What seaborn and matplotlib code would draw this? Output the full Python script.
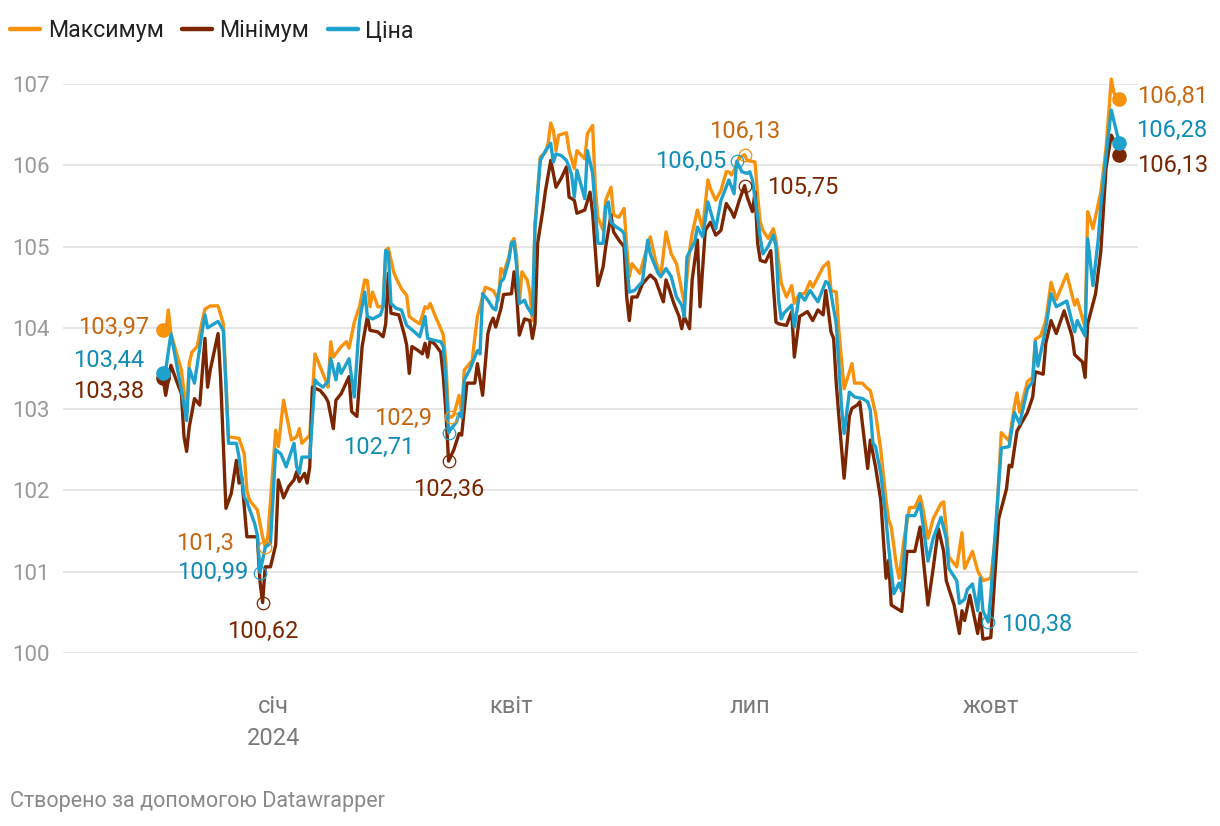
import numpy as np
import pandas as pd
import seaborn as sns
import matplotlib.pyplot as plt
from matplotlib.lines import Line2D

# days counted from 2024-01-01 (negative values = Nov/Dec 2023)
max_days = [
    -42, -41, -40, -39, -35, -33, -32, -31, -29, -27,
    -26, -24, -21, -19, -17, -13, -11, -10, -9, -6,
    -4, -3, -2, 1, 2, 4, 7, 9, 10, 11,
    14, 16, 18, 20, 21, 22, 23, 26, 28, 29,
    31, 33, 35, 36, 37, 38, 40, 42, 43, 44,
    46, 47, 49, 51, 52, 54, 56, 58, 59, 60,
    62, 64, 65, 66, 67, 68, 69, 71, 72, 73,
    76, 78, 81, 84, 86, 87, 88, 90, 91, 92,
    93, 94, 95, 97, 98, 99, 100, 102, 104, 105,
    106, 107, 108, 109, 112, 113, 115, 116, 119, 120,
    122, 123, 124, 126, 127, 129, 130, 132, 134, 135,
    136, 137, 140, 144, 146, 148, 150, 152, 154, 156,
    157, 159, 160, 162, 164, 166, 167, 169, 171, 173,
    174, 175, 176, 178, 179, 180, 181, 184, 185, 186,
    187, 189, 191, 192, 194, 196, 198, 199, 201, 203,
    205, 206, 210, 212, 213, 215, 216, 218, 221, 222,
    225, 227, 228, 230, 232, 234, 235, 236, 238, 239,
    241, 243, 245, 247, 248, 250, 252, 255, 256, 258,
    261, 263, 264, 267, 269, 271, 274, 276, 278, 281,
    283, 284, 285, 288, 290, 291, 293, 295, 297, 299,
    303, 306, 307, 310, 311, 313, 316, 318, 320, 321,
    323,
]
max_vals = [
    103.97, 103.93, 104.22, 103.93, 103.48, 102.95, 103.56, 103.70, 103.77, 104.09,
    104.23, 104.27, 104.27, 104.05, 102.66, 102.64, 102.45, 102.00, 101.88, 101.76,
    101.43, 101.30, 101.43, 102.74, 102.54, 103.11, 102.62, 102.66, 102.76, 102.58,
    102.68, 103.68, 103.52, 103.36, 103.27, 103.83, 103.64, 103.77, 103.83, 103.75,
    104.07, 104.26, 104.59, 104.58, 104.26, 104.44, 104.26, 104.26, 104.95, 104.98,
    104.69, 104.61, 104.48, 104.40, 104.14, 104.09, 104.05, 104.26, 104.24, 104.30,
    104.14, 103.99, 103.91, 103.56, 102.91, 102.90, 102.93, 103.17, 102.95, 103.48,
    103.60, 104.14, 104.50, 104.46, 104.34, 104.73, 104.67, 104.87, 105.05, 105.10,
    104.87, 104.30, 104.69, 104.59, 104.44, 104.09, 105.28, 106.10, 106.16, 106.27,
    106.52, 106.43, 106.18, 106.37, 106.40, 106.18, 105.96, 106.18, 106.08, 106.39,
    106.49, 105.73, 105.36, 105.20, 105.57, 105.73, 105.39, 105.36, 105.47, 105.00,
    104.63, 104.79, 104.67, 105.12, 104.83, 104.63, 105.18, 104.91, 104.79, 104.46,
    104.30, 104.95, 105.16, 105.45, 105.22, 105.82, 105.71, 105.57, 105.69, 105.92,
    105.92, 105.88, 105.94, 106.10, 106.11, 106.13, 106.06, 106.04, 105.61, 105.30,
    105.20, 105.10, 105.22, 105.08, 104.55, 104.38, 104.52, 104.30, 104.42, 104.42,
    104.57, 104.50, 104.75, 104.81, 104.46, 104.44, 103.97, 103.25, 103.56, 103.32,
    103.32, 103.25, 103.23, 102.95, 102.50, 101.88, 101.64, 101.55, 101.07, 100.92,
    101.43, 101.79, 101.79, 101.93, 101.79, 101.41, 101.65, 101.84, 101.86, 101.18,
    101.06, 101.48, 101.04, 101.25, 101.01, 100.89, 100.92, 101.51, 102.71, 102.61,
    103.03, 103.20, 102.96, 103.34, 103.39, 103.86, 103.90, 104.09, 104.56, 104.35,
    104.66, 104.28, 104.35, 104.00, 105.43, 105.22, 105.67, 106.21, 107.06, 106.89,
    106.81,
]

min_days = [
    -42, -41, -39, -37, -35, -34, -33, -32, -30, -28,
    -26, -25, -24, -21, -20, -18, -16, -14, -13, -12,
    -10, -6, -5, -4, -3, -1, 1, 2, 4, 6,
    8, 9, 10, 12, 13, 14, 15, 18, 20, 21,
    23, 24, 26, 29, 30, 32, 34, 36, 37, 40,
    42, 43, 44, 45, 48, 50, 51, 52, 53, 55,
    57, 58, 59, 60, 62, 64, 65, 66, 67, 69,
    71, 72, 74, 77, 78, 80, 82, 83, 84, 85,
    87, 88, 91, 92, 93, 94, 96, 98, 99, 100,
    101, 103, 104, 106, 107, 108, 110, 112, 113, 115,
    116, 119, 121, 122, 124, 126, 127, 129, 130, 132,
    134, 135, 136, 137, 139, 141, 144, 146, 149, 150,
    151, 153, 155, 156, 157, 159, 160, 162, 163, 165,
    167, 169, 171, 173, 175, 176, 178, 180, 181, 183,
    184, 185, 186, 188, 190, 192, 193, 196, 198, 199,
    201, 204, 206, 208, 210, 211, 213, 214, 215, 216,
    218, 220, 221, 223, 224, 227, 228, 230, 232, 234,
    235, 236, 240, 242, 245, 247, 250, 252, 254, 256,
    257, 260, 262, 263, 264, 266, 269, 270, 271, 274,
    277, 280, 281, 282, 284, 288, 290, 291, 294, 295,
    297, 299, 302, 305, 306, 309, 310, 311, 314, 316,
    318, 320, 321, 323,
]
min_vals = [
    103.38, 103.17, 103.54, 103.36, 103.19, 102.66, 102.48, 102.78, 103.13, 103.05,
    103.87, 103.27, 103.48, 103.93, 103.36, 101.78, 101.96, 102.37, 102.09, 102.17,
    101.43, 101.43, 100.88, 100.62, 101.06, 101.06, 101.33, 102.13, 101.91, 102.05,
    102.13, 102.23, 102.11, 102.21, 102.09, 102.29, 103.27, 103.23, 103.15, 103.09,
    102.76, 103.11, 103.19, 103.40, 102.97, 102.91, 103.77, 104.14, 103.97, 103.95,
    103.89, 104.05, 104.67, 104.18, 104.16, 103.93, 103.79, 103.44, 103.77, 103.73,
    103.68, 103.81, 103.64, 103.85, 103.79, 103.70, 103.40, 102.95, 102.36, 102.50,
    102.70, 102.68, 103.32, 103.32, 103.56, 103.17, 103.93, 104.05, 104.12, 104.01,
    104.24, 104.41, 104.42, 104.69, 104.40, 103.91, 104.11, 104.09, 103.87, 104.05,
    105.04, 105.45, 105.69, 106.06, 105.90, 105.73, 105.84, 105.98, 105.61, 105.57,
    105.41, 105.45, 105.67, 105.41, 104.52, 104.75, 105.00, 105.39, 105.18, 105.08,
    105.00, 104.38, 104.09, 104.38, 104.38, 104.54, 104.65, 104.59, 104.32, 104.59,
    104.50, 104.30, 104.14, 103.99, 104.14, 103.99, 104.59, 105.08, 104.26, 105.20,
    105.30, 105.14, 105.20, 105.53, 105.43, 105.36, 105.57, 105.75, 105.61, 105.43,
    105.67, 105.04, 104.83, 104.81, 104.95, 104.07, 104.05, 104.03, 104.20, 103.64,
    104.14, 104.20, 104.09, 104.22, 104.16, 104.46, 103.95, 103.87, 103.32, 102.91,
    102.15, 102.91, 103.01, 103.05, 103.09, 102.27, 102.62, 102.29, 101.88, 100.92,
    101.14, 100.59, 100.51, 101.25, 101.25, 101.55, 100.59, 101.04, 101.53, 101.25,
    100.89, 100.59, 100.24, 100.52, 100.40, 100.71, 100.24, 100.49, 100.17, 100.19,
    101.65, 102.02, 102.31, 102.29, 102.73, 102.96, 103.15, 103.46, 103.43, 103.81,
    104.09, 103.93, 104.21, 103.90, 103.67, 103.58, 103.39, 104.05, 104.42, 104.94,
    105.97, 106.37, 106.30, 106.13,
]

price_days = [
    -42, -41, -39, -35, -33, -32, -30, -27, -26, -25,
    -21, -19, -17, -14, -13, -11, -10, -7, -6, -5,
    -3, -1, 1, 3, 5, 8, 9, 10, 11, 14,
    16, 17, 19, 21, 22, 24, 25, 26, 29, 31,
    33, 35, 36, 38, 41, 42, 43, 44, 45, 47,
    49, 51, 54, 56, 58, 59, 61, 64, 65, 66,
    67, 68, 70, 71, 72, 73, 75, 78, 79, 80,
    82, 84, 85, 86, 87, 88, 90, 91, 92, 93,
    94, 96, 97, 99, 100, 102, 104, 106, 107, 108,
    110, 112, 113, 114, 115, 116, 119, 120, 122, 123,
    124, 126, 127, 128, 129, 131, 133, 134, 136, 138,
    141, 143, 144, 147, 148, 150, 152, 154, 156, 157,
    158, 161, 162, 164, 166, 168, 169, 171, 172, 174,
    176, 177, 179, 181, 182, 183, 185, 186, 187, 189,
    191, 192, 193, 194, 195, 198, 199, 201, 203, 205,
    208, 211, 212, 213, 215, 217, 218, 220, 222, 225,
    227, 228, 229, 230, 232, 234, 235, 237, 239, 240,
    242, 245, 247, 250, 252, 255, 257, 258, 261, 262,
    264, 265, 267, 269, 270, 271, 273, 274, 278, 281,
    283, 285, 288, 290, 291, 292, 295, 297, 299, 303,
    306, 307, 310, 311, 313, 315, 316, 318, 320, 323,
]
price_vals = [
    103.44, 103.48, 103.93, 103.23, 102.86, 103.50, 103.32, 103.97, 104.16, 104.00,
    104.08, 103.97, 102.58, 102.58, 102.41, 101.92, 101.86, 101.59, 101.45, 100.99,
    101.30, 101.35, 102.50, 102.45, 102.29, 102.58, 102.29, 102.21, 102.41, 102.41,
    103.36, 103.32, 103.27, 103.34, 103.62, 103.36, 103.56, 103.44, 103.62, 103.15,
    104.09, 104.44, 104.14, 104.11, 104.16, 104.26, 104.95, 104.93, 104.30, 104.24,
    104.22, 104.03, 103.95, 103.89, 104.14, 103.87, 103.85, 103.83, 103.77, 103.36,
    102.71, 102.76, 102.84, 102.95, 102.90, 103.36, 103.48, 103.72, 103.68, 104.42,
    104.34, 104.24, 104.22, 104.42, 104.57, 104.60, 104.83, 105.04, 105.06, 104.75,
    104.30, 104.34, 104.26, 104.16, 105.24, 106.06, 106.18, 106.27, 106.04, 106.14,
    106.12, 106.06, 105.98, 105.88, 105.61, 105.94, 105.59, 106.18, 105.90, 105.45,
    105.04, 105.04, 105.49, 105.55, 105.30, 105.24, 105.20, 105.16, 104.44, 104.46,
    104.57, 105.08, 104.91, 104.67, 104.63, 104.73, 104.63, 104.38, 104.28, 104.14,
    104.87, 105.06, 105.24, 105.12, 105.55, 105.32, 105.22, 105.57, 105.65, 105.82,
    105.65, 106.05, 105.92, 105.90, 105.92, 105.82, 105.36, 105.10, 104.91, 105.00,
    105.14, 105.00, 104.34, 104.11, 104.18, 104.28, 104.01, 104.42, 104.34, 104.46,
    104.32, 104.57, 104.55, 104.42, 104.05, 103.03, 102.70, 103.21, 103.15, 103.13,
    103.09, 102.99, 102.58, 102.54, 102.21, 101.64, 101.30, 100.73, 100.86, 100.76,
    101.69, 101.69, 101.84, 101.13, 101.41, 101.67, 101.41, 101.04, 100.89, 100.61,
    100.66, 100.78, 100.85, 100.52, 100.92, 100.52, 100.38, 100.71, 102.52, 102.54,
    102.96, 102.82, 103.25, 103.34, 103.83, 103.53, 104.00, 104.42, 104.26, 104.33,
    103.95, 104.09, 103.90, 105.10, 104.52, 105.08, 105.50, 106.12, 106.68, 106.28,
]

series_names = ["Максимум", "Мінімум", "Ціна"]

# highlighted lows / highs (series, day, value)
highlight_series = ["Максимум", "Ціна", "Мінімум", "Максимум", "Ціна",
                    "Мінімум", "Максимум", "Ціна", "Мінімум", "Ціна"]
highlight_days = [-3, -5, -4, 68, 67, 67, 180, 177, 180, 273]
highlight_vals = [101.3, 100.99, 100.62, 102.9, 102.71, 102.36,
                  106.13, 106.05, 105.75, 100.38]

tick_dates = ["2024-01-01", "2024-04-01", "2024-07-01", "2024-10-01"]
tick_labels = ["січ\n2024", "квіт", "лип", "жовт"]
y_ticks = [100, 101, 102, 103, 104, 105, 106, 107]

assert len(max_days) == len(max_vals)
assert len(min_days) == len(min_vals)
assert len(price_days) == len(price_vals)

# ---- styling ----
line_colors = {"Максимум": "#f7920c", "Мінімум": "#7b2600", "Ціна": "#1ea2cd"}
text_colors = {"Максимум": "#c9670f", "Мінімум": "#7b2600", "Ціна": "#108cb5"}

sns.set_theme(style="white")
plt.rcParams["font.family"] = ["Roboto", "DejaVu Sans"]

base = pd.Timestamp("2024-01-01")


def to_dates(days):
    return base + pd.to_timedelta(np.asarray(days, dtype=float), unit="D")


def fmt(v):
    return f"{v:g}".replace(".", ",")


series_data = {
    "Максимум": (max_days, max_vals),
    "Мінімум": (min_days, min_vals),
    "Ціна": (price_days, price_vals),
}

frames = []
for name in series_names:
    d, v = series_data[name]
    frames.append(pd.DataFrame({"date": to_dates(d), "value": v, "series": name}))
df = pd.concat(frames, ignore_index=True)

fig = plt.figure(figsize=(12.2, 8.26), dpi=100)
ax = fig.add_axes([63 / 1220, 1 - 653 / 826, (1138 - 63) / 1220, (653 - 84) / 826])

sns.lineplot(data=df, x="date", y="value", hue="series", hue_order=series_names,
             palette=line_colors, estimator=None, linewidth=2.4, legend=False, ax=ax)
for ln in ax.lines:
    ln.set_clip_on(False)
    ln.set_solid_joinstyle("round")

ax.set_xlim(base + pd.Timedelta(days=-80.2), base + pd.Timedelta(days=330.2))
ax.set_ylim(100, 107)
ax.set_yticks(y_ticks)
ax.set_yticklabels([str(t) for t in y_ticks])
ax.set_xticks(pd.to_datetime(tick_dates))
ax.set_xticklabels(tick_labels, linespacing=1.5)
ax.grid(axis="y", color="#e2e2e2", linewidth=1.2)
ax.grid(axis="x", visible=False)
for s in ax.spines.values():
    s.set_visible(False)
ax.tick_params(axis="y", length=0, pad=9.5, labelsize=16, labelcolor="#9a9a9a")
ax.tick_params(axis="x", length=0, pad=30, labelsize=17, labelcolor="#7a7a7a")
ax.set_xlabel("")
ax.set_ylabel("")

PX = 0.72  # pixel -> point

# start / end dots with values
start_off = {"Максимум": (-14, 3), "Мінімум": (-19, -13), "Ціна": (-19, 13)}
end_off = {"Максимум": (18, 3), "Мінімум": (18, -11), "Ціна": (17, 12)}
for name in series_names:
    d, v = series_data[name]
    for day, val, off, ha in [(d[0], v[0], start_off[name], "right"),
                              (d[-1], v[-1], end_off[name], "left")]:
        x = to_dates([day])[0]
        ax.plot([x], [val], "o", color=line_colors[name], markersize=9.5, clip_on=False, zorder=5)
        ax.annotate(fmt(val), (x, val), xytext=(off[0] * PX, off[1] * PX),
                    textcoords="offset points", ha=ha, va="center",
                    fontsize=17, color=text_colors[name])

# highlighted points: hollow circles + labels
hl_off = [(-31, 4, "right"), (-12, 0, "right"), (0, -29, "center"),
          (-19, -1, "right"), (-34, -15, "right"), (0, -28, "center"),
          (0, 23, "center"), (-10, 0, "right"), (22, -2, "left"), (13, -2, "left")]
for name, day, val, (dx, dy, ha) in zip(highlight_series, highlight_days, highlight_vals, hl_off):
    x = to_dates([day])[0]
    ax.plot([x], [val], "o", markerfacecolor="none", markeredgecolor=line_colors[name],
            markeredgewidth=0.9, markersize=9, zorder=5)
    ax.annotate(fmt(val), (x, val), xytext=(dx * PX, dy * PX),
                textcoords="offset points", ha=ha, va="center",
                fontsize=17, color=text_colors[name])

# legend
handles = [Line2D([0], [0], color=line_colors[n], lw=3.2, solid_capstyle="round") for n in series_names]
leg = fig.legend(handles, series_names, loc="center left", bbox_to_anchor=(10 / 1220, 1 - 31 / 826),
                 ncol=3, frameon=False, fontsize=16.7, handlelength=1.3, handletextpad=0.33,
                 columnspacing=0.78, borderpad=0, borderaxespad=0)
for t in leg.get_texts():
    t.set_color("#222222")

fig.text(10 / 1220, 1 - 802 / 826, "Створено за допомогою Datawrapper",
         fontsize=15.5, color="#8a8a8a", va="center", ha="left")

fig.savefig("out.png", dpi=100)
